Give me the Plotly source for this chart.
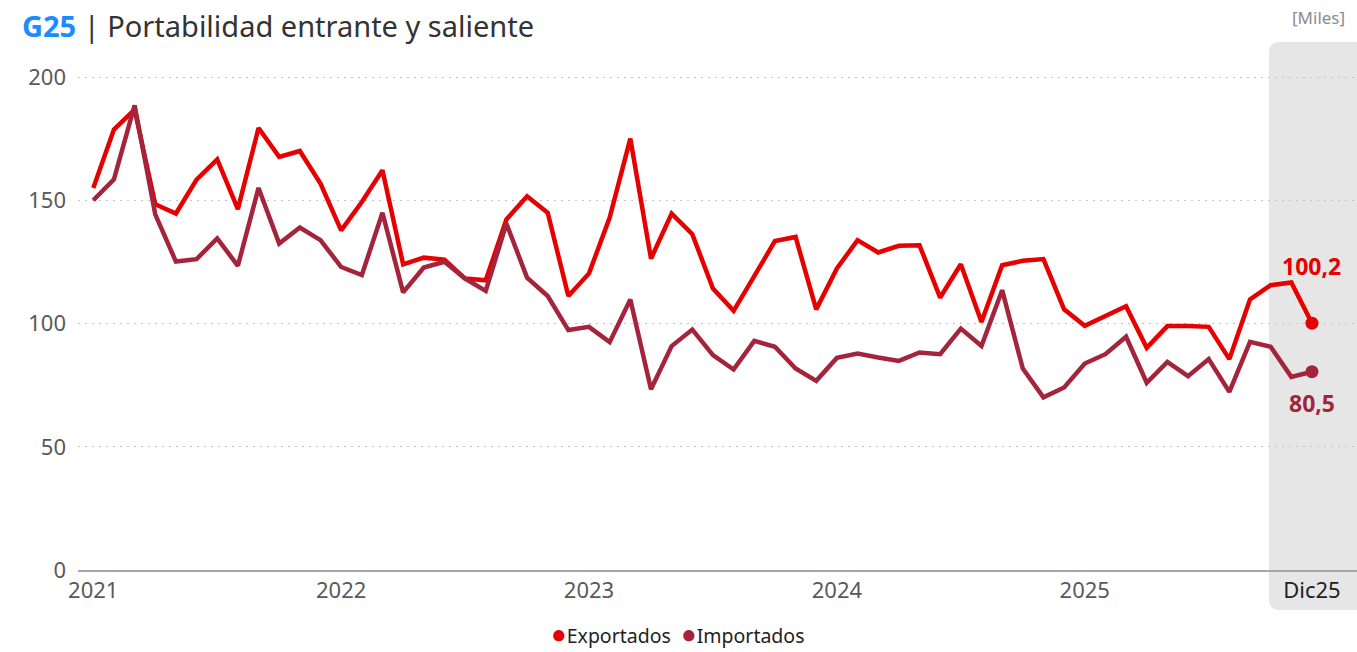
import plotly.graph_objects as go

# ---- data (thousands) ----
months = [f"{y}-{m:02d}" for y in range(2021, 2026) for m in range(1, 13)]

exportados = [
    155.1, 178.8, 186.9, 148.5, 144.7, 158.5, 166.7, 146.5, 179.4, 167.7, 170.1, 156.9,
    137.9, 149.4, 162.3, 124.1, 126.8, 126.0, 118.3, 117.6, 142.3, 151.7, 145.0, 111.2,
    120.4, 143.1, 175.1, 126.4, 144.7, 136.3, 114.3, 105.2, 119.3, 133.5, 135.2, 105.8,
    122.4, 133.9, 128.9, 131.6, 131.8, 110.6, 124.1, 100.7, 123.7, 125.5, 126.2, 105.8,
    99.1, 103.0, 107.1, 90.2, 99.0, 99.0, 98.7, 85.6, 109.8, 115.6, 116.7, 100.2,
]
importados = [
    150.1, 158.6, 188.6, 144.4, 125.2, 126.2, 134.6, 123.5, 155.1, 132.5, 139.0, 133.9,
    123.0, 119.7, 145.0, 112.7, 122.8, 125.1, 118.3, 113.3, 140.6, 118.7, 111.2, 97.4,
    98.7, 92.5, 109.8, 73.4, 90.9, 97.6, 87.2, 81.4, 93.0, 90.6, 81.8, 76.8,
    86.1, 87.9, 86.3, 84.9, 88.3, 87.6, 98.0, 90.9, 113.6, 81.8, 70.1, 74.1,
    83.8, 87.6, 94.7, 76.0, 84.5, 78.7, 85.6, 72.3, 92.6, 90.6, 78.4, 80.5,
]
tick_positions = [0, 12, 24, 36, 48, 59]
tick_labels = ["2021", "2022", "2023", "2024", "2025",
               "<span style='color:#222222'>Dic25</span>"]
y_ticks = [0, 50, 100, 150, 200]
last_labels = ["100,2", "80,5"]
series_names = ["Exportados", "Importados"]

RED = "#e60000"
MAROON = "#a3243b"
FONT = "Noto Sans"

idx = list(range(len(months)))
last = idx[-1]

fig = go.Figure()
fig.add_trace(go.Scatter(x=idx, y=exportados, mode="lines", name=series_names[0],
                         line=dict(color=RED, width=4.5), showlegend=False, hoverinfo="skip"))
fig.add_trace(go.Scatter(x=idx, y=importados, mode="lines", name=series_names[1],
                         line=dict(color=MAROON, width=4.5), showlegend=False, hoverinfo="skip"))
fig.add_trace(go.Scatter(x=[last], y=[exportados[-1]], mode="markers", showlegend=False,
                         marker=dict(color=RED, size=13), hoverinfo="skip"))
fig.add_trace(go.Scatter(x=[last], y=[importados[-1]], mode="markers", showlegend=False,
                         marker=dict(color=MAROON, size=13), hoverinfo="skip"))

# grey highlight panel (paper coords)
x0, x1, yt, yb = 0.9312, 1.0, 1.0455, -0.0792
rx, ry = 0.0085, 0.0215
path = (f"M {x0+rx},{yt} L {x1},{yt} L {x1},{yb} L {x0+rx},{yb} "
        f"Q {x0},{yb} {x0},{yb+ry} L {x0},{yt-ry} Q {x0},{yt} {x0+rx},{yt} Z")
fig.add_shape(type="path", path=path, xref="paper", yref="paper",
              fillcolor="#e6e6e6", line=dict(width=0), layer="below")

fig.add_annotation(x=last, y=exportados[-1], text=f"<b>{last_labels[0]}</b>", showarrow=False,
                   yshift=57, font=dict(color=RED, size=23, family=FONT))
fig.add_annotation(x=last, y=importados[-1], text=f"<b>{last_labels[1]}</b>", showarrow=False,
                   yshift=-31, font=dict(color=MAROON, size=23, family=FONT))

# title and unit
fig.add_annotation(xref="paper", yref="paper", x=-0.045, y=1.12, xanchor="left", yanchor="top",
                   text="<b><span style='color:#1a8cff'>G25</span></b> | Portabilidad entrante y saliente",
                   showarrow=False, font=dict(color="#333333", size=29, family=FONT))
fig.add_annotation(xref="paper", yref="paper", x=0.970, y=1.094, xanchor="center", yanchor="middle",
                   text="[Miles]", showarrow=False, font=dict(color="#8c8c8c", size=17, family=FONT))

# legend (as text with coloured dots)
legend_text = (f"<span style='color:{RED};font-size:26px'>●</span>{series_names[0]}"
               f"  <span style='color:{MAROON};font-size:26px'>●</span>{series_names[1]}")
fig.add_annotation(xref="paper", yref="paper", x=0.469, y=-0.124, xanchor="center", yanchor="middle",
                   text=legend_text, showarrow=False, font=dict(color="#222222", size=19.5, family=FONT))

fig.update_layout(
    width=1357, height=652,
    margin=dict(l=78, r=0, t=65, b=82),
    paper_bgcolor="white", plot_bgcolor="rgba(0,0,0,0)",
    font=dict(family=FONT, color="#595959"),
    showlegend=False,
    xaxis=dict(range=[-0.74, 61.18], tickmode="array", tickvals=tick_positions, ticktext=tick_labels,
               showgrid=False, showline=True, linecolor="#a6a6a6", linewidth=2, ticks="",
               tickfont=dict(size=22, color="#595959", family=FONT), zeroline=False, fixedrange=True),
    yaxis=dict(range=[0, 205], tickmode="array", tickvals=y_ticks, showgrid=True,
               gridcolor="#c4c4c4", griddash="2px,5px", gridwidth=1, zeroline=False, ticks="",
               tickfont=dict(size=22, color="#595959", family=FONT), ticklabelstandoff=11,
               fixedrange=True),
)

fig.write_html("out.html", config={"displayModeBar": False},
               post_script="document.body.style.margin='0px';document.body.style.overflow='hidden';")
